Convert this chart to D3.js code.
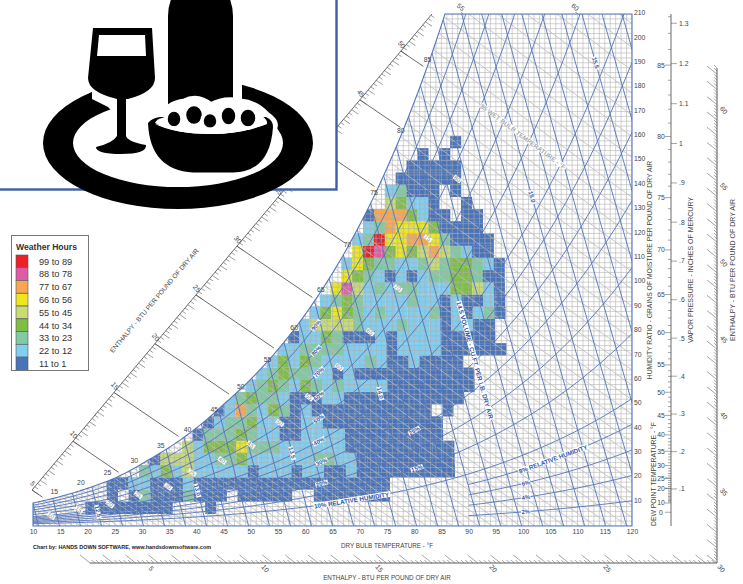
<!DOCTYPE html>
<html><head><meta charset="utf-8">
<script src="https://cdn.jsdelivr.net/npm/d3@7"></script>
<style>
html,body{margin:0;padding:0;background:#fff}
svg{display:block}
text{font-family:"Liberation Sans",Arial,sans-serif}
</style></head><body>
<script>
// ---------- data ----------
const dryBulbTicks = d3.range(10,121,5);
const grainTicks = d3.range(10,211,10);
const rhMain = [.1,.15,.2,.25,.3,.35,.4,.5,.6,.7,.8,.9];
const rhLow = [.02,.04,.06,.08];
const volumes = d3.range(122,159).map(d=>d/10);
const wetBulbs = d3.range(-5,101);
const wbLabeled = [15,20,25,30,35,40,45,50,55,60,65,70,75,80,85];
const enthalpyLines = [5,10,15,20,25,30,35,40,45,50];
const enthalpyTopLabels = [[55,89],[60,110]];
const dewLabels = [0,10,20,25,30,35,40,45,50,55,60,65,70,75,80,85];
const vaporTicks = [.1,.2,.3,.4,.5,.6,.7,.8,.9,1,1.1,1.2,1.3];
const vaporText = [".1",".2",".3",".4",".5",".6",".7",".8",".9","1","1.1","1.2","1.3"];
const rightEnthalpy = [35,40,45,50,55,60];
const bottomEnthalpy = [5,10,15,20,25,30];
// label: [text, rh, dry bulb]
const rhLabels = [["90%",.9,62],["80%",.8,62],["70%",.7,62.5],["60%",.6,62.5],["50%",.5,62.5],["40%",.4,62.5],["30%",.3,63],["20%",.2,63],
  ["10% RELATIVE HUMIDITY",.1,68.5],["25%",.25,80],["15%",.15,80.5],["8% RELATIVE HUMIDITY",.08,105.5],["6%",.06,100.5],["4%",.04,100.5],["2%",.02,100.5]];
// label: [wet bulb, dry bulb]
const wbCellLabels = [[10,13.3],[15,18.4],[20,24.1],[25,29.3],[30,34.8],[35,39.2],[40,44.7],[45,50],[50,55.3],[55,60.7],[60,66.2],[65,71.9],[70,77],[75,82.5],[80,87.9]];
// label: [text, volume, grains]
const volLabels = [["12.5",12.5,6],["13.0",13,14.7],["13.5",13.5,30],["14.0",14,54.5],["14.5 VOLUME - CU.FT. PER LB. DRY AIR",14.5,68],["15.0",15,135],["15.5",15.5,190]];
const legendLabels = ["99 to 89","88 to 78","77 to 67","66 to 56","55 to 45","44 to 34","33 to 23","22 to 12","11 to 1"];
const legendColors = ["#ee2027","#e05ca8","#f9a650","#ece71e","#c9dc74","#7fbe45","#80cba3","#80cef0","#4a74b9"];
// heat cells: [row (5-grain bins), first column (2-degree bins), class per column, 0 = no hours]
const heatRows = [
[1,-2,"111111110001"],
[2,0,"1013111311101111100"+"1111111"],
[3,0,"11"+"22"+"111"+"2"+"111111111111111111"],
[4,3,"32425222221"+"222"+"1"+"22"+"11"+"2"+"111111111"],
[5,4,"1555"+"22"+"33"+"4"+"2"+"22222"+"33"+"22"+"111111111"],
[6,7,"52444"+"6"+"333"+"222222"+"1111111111"],
[7,8,"1333"+"4"+"3"+"22"+"11"+"2222"+"111111111"],
[8,9,"12"+"33"+"4"+"22"+"11"+"22"+"11111111111"],
[9,10,"12732431"+"2"+"11111111111"+"01"],
[10,11,"234"+"33"+"2"+"111"+"22"+"11111111111"],
[11,13,"2343243232"+"222"+"11111111"],
[12,14,"234"+"33"+"22"+"1"+"2"+"11111111111"],
[13,15,"24243"+"2222"+"3"+"2"+"11"+"2"+"1111"],
[14,16,"22"+"3333"+"2222"+"1"+"2222"+"111111"],
[15,17,"1"+"22"+"4"+"3"+"111"+"2"+"1"+"2222"+"11111"],
[16,18,"2"+"5555"+"3"+"222"+"3"+"222"+"1"+"22"+"11"],
[17,19,"24643"+"2"+"3"+"2222"+"3"+"1"+"2"+"1"+"2"+"3"+"1"],
[18,20,"2343"+"2222"+"3"+"22"+"1"+"2"+"11"+"2"+"1"],
[19,21,"6"+"8"+"5"+"2"+"3"+"2"+"33"+"222"+"44"+"5"+"2"+"1"],
[20,22,"6432121"+"2"+"33"+"44"+"3"+"11"],
[21,22,"264"+"33"+"22"+"353"+"44"+"3"+"2"+"1"],
[22,23,"6984645753"+"2"+"11"],
[23,23,"239"+"66"+"77"+"6"+"3"+"1111"],
[24,24,"237"+"666"+"4"+"1111"],
[25,24,"1"+"777"+"42"+"11"+"0"+"11"],
[26,26,"54"+"22"+"1"+"00"+"1"],
[27,26,"23"+"111"+"0"+"1"],
[28,27,"111111"],
[29,28,"11111"],
[30,29,"101"],
[31,32,"1"]
];

// ---------- set up ----------
const W=743,H=584;
const svg=d3.select("body").append("svg").attr("width",W).attr("height",H);
svg.append("rect").attr("width",W).attr("height",H).attr("fill","#fff");
const x=d3.scaleLinear().domain([10,120]).range([33,632]);
const y=d3.scaleLinear().domain([0,210]).range([526,14]);
const blue="#5475ba", gridC="#adadad", wbC="#bcbcbc", dark="#5a5a5a", txt="#444";
const Pb=29.1;
function ps(T){const t=(T-32)/1.8;const e=t>=0?6.112*Math.exp(17.62*t/(243.12+t)):6.112*Math.exp(22.46*t/(272.62+t));return e*0.02953;}
function wOfP(p,P=Pb){return 0.622*p/(P-p);}
const clamp=(v,a,b)=>Math.max(a,Math.min(b,v));
function shift(T,rh){return 2.5*rh*rh*clamp((T-25)/20,0,1);}
function wRH(T,rh){return wOfP(rh*ps(T+shift(T,rh)))*7000;}
function wWB(tw,T){const d=shift(tw,1);const Ws=wOfP(ps(tw));const t=T+d;
  return 7000*((1093-.556*tw)*Ws-.24*(t-tw))/(1093+.444*t-tw);}
function tVol(v,w){return v/(0.02592*(1+1.6078*w/7000))-459.67;}
const line=d3.line().x(d=>x(d[0])).y(d=>y(d[1]));
// saturation outline
const tSamples=d3.range(10,100,.5).map(t=>[t,wRH(t,1)]).filter(d=>d[1]<=210);
const lastT=tSamples[tSamples.length-1];
const outline=[...tSamples,[lastT[0]+(210-lastT[1])/((wRH(lastT[0]+.5,1)-lastT[1])/.5),210],[120,210],[120,0],[10,0]];
svg.append("clipPath").attr("id","chart").append("path").attr("d",line(outline)+"Z");
const plot=svg.append("g").attr("clip-path","url(#chart)");

// ---------- heat cells ----------
const colorOf=d3.scaleOrdinal().domain([9,8,7,6,5,4,3,2,1]).range(legendColors);
const cells=[];
heatRows.forEach(([r,s,str])=>{[...str].forEach((ch,i)=>{if(ch!=="0")cells.push({r,c:s+i,v:+ch});});});
const T0=23.7;
plot.append("g").selectAll("rect").data(cells).join("rect")
 .attr("x",d=>x(T0+2*d.c-1.1*Math.min(1,(d.r*5+2.5)/100)))
 .attr("y",d=>y((d.r+1)*5))
 .attr("width",d=>x(12)-x(10)+.2)
 .attr("height",d=>y(0)-y(5)+.2)
 .attr("fill",d=>colorOf(d.v));

// ---------- grid ----------
const g=plot.append("g").attr("stroke",gridC).attr("stroke-width",.65).attr("stroke-opacity",.85);
g.selectAll(".v").data(d3.range(10,121,1)).join("line").attr("x1",d=>x(d)).attr("x2",d=>x(d)).attr("y1",y(0)).attr("y2",y(210));
g.selectAll(".h").data(d3.range(0,211,2)).join("line").attr("y1",d=>y(d)).attr("y2",d=>y(d)).attr("x1",x(10)).attr("x2",x(120));
// wet bulb
plot.append("g").selectAll("path").data(wetBulbs).join("path").attr("fill","none").attr("stroke",wbC).attr("stroke-width",.8)
 .attr("d",tw=>line([tw-4,tw+10,tw+30,tw+60,tw+100,tw+140].map(t=>[t,wWB(tw,t)])));
// volume
plot.append("g").selectAll("path").data(volumes).join("path").attr("fill","none").attr("stroke",blue).attr("stroke-width",.9)
 .attr("d",v=>line(d3.range(0,211,15).map(w=>[tVol(v,w),w])));
// RH
plot.append("g").selectAll("path").data(rhMain).join("path").attr("fill","none").attr("stroke",blue).attr("stroke-width",.9)
 .attr("d",rh=>line(d3.range(10,121,1).map(t=>[t,wRH(t,rh)])));
plot.append("g").selectAll("path").data(rhLow).join("path").attr("fill","none").attr("stroke",blue).attr("stroke-width",.9)
 .attr("d",rh=>line(d3.range(90,121,1).map(t=>[t,wRH(t,rh)])));
// outline
svg.append("path").attr("d",line(outline)+"Z").attr("fill","none").attr("stroke",blue).attr("stroke-width",1.1);

// ---------- axes ----------
const xAxis=svg.append("g").attr("transform",`translate(0,${y(0)})`).call(d3.axisBottom(x).tickValues(dryBulbTicks).tickSize(0).tickPadding(3));
xAxis.select(".domain").remove();
xAxis.selectAll("text").attr("font-size",6.8).attr("fill",txt).style("font-family",'"Liberation Sans"');
const yAxis=svg.append("g").attr("transform",`translate(${x(120)},0)`).call(d3.axisRight(y).tickValues(grainTicks).tickSize(0).tickPadding(2));
yAxis.select(".domain").remove();
yAxis.selectAll("text").attr("font-size",6.8).attr("fill",txt).attr("dy","0.1em").style("font-family",'"Liberation Sans"');

function T(a){return svg.append("text").attr("fill",txt).attr("text-anchor","middle").attr("font-size",a.s||7)
  .attr("transform",`translate(${a.x},${a.y}) rotate(${a.r||0})`).attr("font-weight",a.b?"bold":null).attr("fill",a.c||txt).text(a.t);}
// left enthalpy ruler
const hLx=d3.scaleLinear().domain([5,53.8]).range([32,432]);
const hLy=d3.scaleLinear().domain([5,53.8]).range([490,14]);
svg.append("line").attr("x1",hLx(5)).attr("y1",hLy(5)).attr("x2",hLx(53.8)).attr("y2",hLy(53.8)).attr("stroke",dark).attr("stroke-width",.9);
svg.append("g").attr("stroke",dark).attr("stroke-width",.6).selectAll("line")
 .data(d3.range(0,147).map(i=>({h:5+i/3,maj:i%3===0}))).join("line")
 .attr("x1",d=>hLx(d.h)).attr("y1",d=>hLy(d.h))
 .attr("x2",d=>hLx(d.h)+(d.maj?6.5:3.4)).attr("y2",d=>hLy(d.h)+(d.maj?4.4:2.3));
// enthalpy leader lines to saturation
function hitBoundary(h){
  const sx=hLx(h),sy=hLy(h);
  for(let k=0;k<900;k+=.5){const px=sx+k,py=sy+k*.68;const t=x.invert(px);
    if(t>=10&&y(wRH(t,1))>=py && y(wRH(t,1))-py<1.2)return [px,py];}
  return [sx,sy];
}
svg.append("g").selectAll("line").data(enthalpyLines).join("line").attr("stroke",dark).attr("stroke-width",.9)
 .attr("x1",h=>hLx(h)).attr("y1",h=>hLy(h)).attr("x2",h=>hitBoundary(h)[0]-3).attr("y2",h=>hitBoundary(h)[1]-2);
enthalpyLines.forEach(h=>T({t:h,x:hLx(h)-1,y:hLy(h)-5,r:50,s:6.8}));
enthalpyTopLabels.forEach(([h,t])=>{T({t:h,x:x(t)-4,y:9,r:40,s:6.8});
  svg.append("line").attr("x1",x(t)).attr("x2",x(t)-2).attr("y1",y(210)).attr("y2",y(210)-2).attr("stroke",dark).attr("stroke-width",.7);});
// wet bulb labels on saturation
wbLabeled.forEach(t=>T({t:t,x:x(t)-6-.114*(t-15),y:y(wOfP(ps(t))*7000)-3,s:6.8}));

// bottom + right enthalpy rulers
const hBx=d3.scaleLinear().domain([2.5,30]).range([90,717]);
const hRy=d3.scaleLinear().domain([30,62.4]).range([563,68]);
const rul=svg.append("g").attr("stroke",dark);
rul.append("line").attr("x1",hBx(2.5)).attr("x2",hBx(30)).attr("y1",563).attr("y2",563).attr("stroke-width",1);
rul.append("line").attr("x1",717).attr("x2",717).attr("y1",hRy(30)).attr("y2",hRy(62.4)).attr("stroke-width",1);
const bTicks=d3.range(0,138).map(i=>({h:2.5+i/5,maj:(i+0)%5===0}));
const rTicks=d3.range(0,163).map(i=>({h:30+i/5,maj:i%5===0}));
rul.append("g").attr("stroke-width",.55).selectAll("line").data(bTicks).join("line")
 .attr("x1",d=>hBx(d.h)).attr("y1",563).attr("x2",d=>hBx(d.h)-(d.maj?10:3)).attr("y2",d=>563-(d.maj?8:3));
rul.append("g").attr("stroke-width",.55).selectAll("line").data(rTicks).join("line")
 .attr("x1",717).attr("y1",d=>hRy(d.h)).attr("x2",d=>717-(d.maj?10:3)).attr("y2",d=>hRy(d.h)-(d.maj?8:3));
bottomEnthalpy.forEach(h=>T({t:h,x:hBx(h)+2.5,y:570,r:50,s:6.8}));
rightEnthalpy.forEach(h=>T({t:h,x:722,y:hRy(h)+7,r:50,s:6.8}));

// dew point / vapor scale
const dp=t=>y(wOfP(ps(t))*7000);
const vp=p=>y(wOfP(p,28.75)*7000);
const sc=svg.append("g").attr("stroke",dark);
sc.append("line").attr("x1",671).attr("x2",671).attr("y1",y(0)).attr("y2",y(210)).attr("stroke-width",.9);
sc.append("g").attr("stroke-width",.55).selectAll("line").data(dewLabels.concat(d3.range(11,30))).join("line")
 .attr("x1",d=>dewLabels.includes(d)?665:668).attr("x2",671).attr("y1",dp).attr("y2",dp);
sc.append("g").attr("stroke-width",.55).selectAll("line").data(d3.range(31,90,1).filter(d=>d%5)).join("line")
 .attr("x1",668).attr("x2",671).attr("y1",dp).attr("y2",dp);
sc.append("g").attr("stroke-width",.55).selectAll("line").data(vaporTicks).join("line")
 .attr("x1",671).attr("x2",677).attr("y1",vp).attr("y2",vp);
dewLabels.forEach(d=>T({t:d,x:661,y:dp(d)+2.4,s:6.8}));
vaporTicks.forEach((p,i)=>svg.append("text").attr("x",679).attr("y",vp(p)+2.4).attr("font-size",6.8).attr("fill",txt).text(vaporText[i]));

// ---------- inline labels ----------
function boxLabel(t,px,py,ang,col,fs,bold){
 const l=svg.append("g").attr("transform",`translate(${px},${py}) rotate(${ang})`);
 const rect=l.append("rect").attr("fill","#fff");
 const tx=l.append("text").attr("text-anchor","middle").attr("dy",".36em").attr("font-size",fs).attr("fill",col).attr("font-weight",bold?"bold":null).text(t);
 const b=tx.node().getBBox();
 rect.attr("x",b.x-.6).attr("y",b.y+.6).attr("width",b.width+1.2).attr("height",b.height-1.2);
}
function slopeAng(p0,p1){return Math.atan2(p1[1]-p0[1],p1[0]-p0[0])*180/Math.PI;}
wbCellLabels.forEach(([tw,t])=>{
 const a=slopeAng([x(t-1),y(wWB(tw,t-1))],[x(t+1),y(wWB(tw,t+1))]);
 boxLabel(tw,x(t),y(wWB(tw,t)),a,"#888",6,false);
});
{const tw=85,t=100;const a=slopeAng([x(t-1),y(wWB(tw,t-1))],[x(t+1),y(wWB(tw,t+1))]);
 boxLabel("85 WET BULB TEMPERATURE - °F",x(t),y(wWB(tw,t)),a,"#a8a8a8",6.4,true);}
rhLabels.forEach(([s,rh,t])=>{
 const a=slopeAng([x(t-1),y(wRH(t-1,rh))],[x(t+1),y(wRH(t+1,rh))]);
 boxLabel(s,x(t),y(wRH(t,rh)),a,"#2f55a4",s.length>5?6.2:5.8,true);
});
volLabels.forEach(([s,v,w])=>{
 const a=slopeAng([x(tVol(v,w+2)),y(w+2)],[x(tVol(v,w-2)),y(w-2)]);
 boxLabel(s,x(tVol(v,w)),y(w),a,"#2f55a4",s.length>5?6.4:6,true);
});

// ---------- titles ----------
T({t:"DRY BULB TEMPERATURE - °F",x:387,y:547.5,s:6.3});
T({t:"ENTHALPY - BTU PER POUND OF DRY AIR",x:387,y:580,s:6.3});
T({t:"ENTHALPY - BTU PER POUND OF DRY AIR",x:156,y:302,r:-50,s:6.6});
T({t:"HUMIDITY RATIO - GRAINS OF MOISTURE PER POUND OF DRY AIR",x:652,y:270,r:-90,s:6.8});
T({t:"VAPOR PRESSURE - INCHES OF MERCURY",x:693,y:270,r:-90,s:7});
T({t:"DEW POINT TEMPERATURE - °F",x:656,y:474,r:-90,s:6.8});
T({t:"ENTHALPY - BTU PER POUND OF DRY AIR",x:735,y:270,r:-90,s:7});
svg.append("text").attr("x",33).attr("y",549).attr("font-size",5.45).attr("font-weight","bold").attr("fill","#222").text("Chart by: HANDS DOWN SOFTWARE, www.handsdownsoftware.com");

// ---------- legend ----------
const lg=svg.append("g");
lg.append("rect").attr("x",11.5).attr("y",235.5).attr("width",77).attr("height",135).attr("fill","#fff").attr("stroke","#777").attr("stroke-width",1);
lg.append("text").attr("x",16).attr("y",250).attr("font-size",8.6).attr("font-weight","bold").attr("fill","#333").style("font-family",'"Liberation Sans Narrow","Liberation Sans"').text("Weather Hours");
const ly=d3.scaleBand().domain(legendLabels).range([255,370]);
lg.selectAll(".s").data(legendLabels).join("rect").attr("x",16).attr("y",d=>ly(d)).attr("width",12).attr("height",ly.bandwidth()-.2)
 .attr("fill",(d,i)=>legendColors[i]).attr("stroke","#555").attr("stroke-width",.6);
lg.selectAll(".t").data(legendLabels).join("text").attr("x",39).attr("y",d=>ly(d)+ly.bandwidth()/2+3.3).attr("font-size",9.2).attr("fill","#333")
 .style("font-family",'"Liberation Sans Narrow","Liberation Sans"').text(d=>d);

// ---------- photo panel with icon ----------
const panel=svg.append("g");
panel.append("rect").attr("x",-3).attr("y",-3).attr("width",339.5).attr("height",192.5).attr("fill","#fff").attr("stroke","#3c5fa6").attr("stroke-width",2.4);
const ic=panel.append("g").attr("fill","#000");
ic.append("path").attr("fill-rule","evenodd").attr("d",
 "M43,143 A135,66 0 1 0 313,143 A135,66 0 1 0 43,143 Z M73,143 A105,44 0 1 0 283,143 A105,44 0 1 0 73,143 Z");
ic.append("path").attr("fill","#fff").attr("d","M92,99 L108,107 L135,135 L242,135 L242,94 L242,60 L92,60 Z");
ic.append("path").attr("d","M168,112 L168,16 Q168,6 172,-3 L229,-3 Q233,6 233,16 L233,112 Z");
ic.append("path").attr("fill","#fff").attr("stroke","#fff").attr("stroke-width",9)
 .attr("d","M163,118 Q168,105 185,103 Q197,96 211,107 Q225,99 240,103 Q255,104 266,116 Q275,122 273,127 Q272,172 233,172 L193,172 Q150,170 148,123 Z");
ic.append("path").attr("d","M148,123 Q152,118 160,117 L266,117 Q273,120 273,127 Q270,172 233,172.5 L193,172.5 Q150,170 148,123 Z");
ic.append("path").attr("fill","#fff").attr("d","M155,123 Q156,119 165,117 L262,116 Q268,120 267,124 Q240,134 211,134 Q175,134 155,123 Z");
[[174,119,8,9],[194,115,9.5,10.5],[210,121,8,8.5],[228.5,116,8.5,10],[248,118,9,10]].forEach(([cx,cy,rx,ry])=>{
 ic.append("ellipse").attr("cx",cx).attr("cy",cy).attr("rx",rx).attr("ry",ry).attr("stroke","#fff").attr("stroke-width",3.5);
});
ic.append("path").attr("fill","#fff").attr("d","M155,124 Q175,127.5 211,127.5 Q245,127.5 267,124 Q240,134 211,134 Q175,134 155,124 Z");
ic.append("path").attr("d","M93,28 L152,28 L155,78 Q155,92 128,99 L126,99 L126,136 Q128,142 146,145 Q147,154 121,154 Q96,154 96,147 Q113,143 117,136 L117,99 Q88,92 88,78 Z");
ic.append("path").attr("fill","#fff").attr("d","M99,35 L145,35 L146,56 L97,56 Z");
</script>
</body></html>
